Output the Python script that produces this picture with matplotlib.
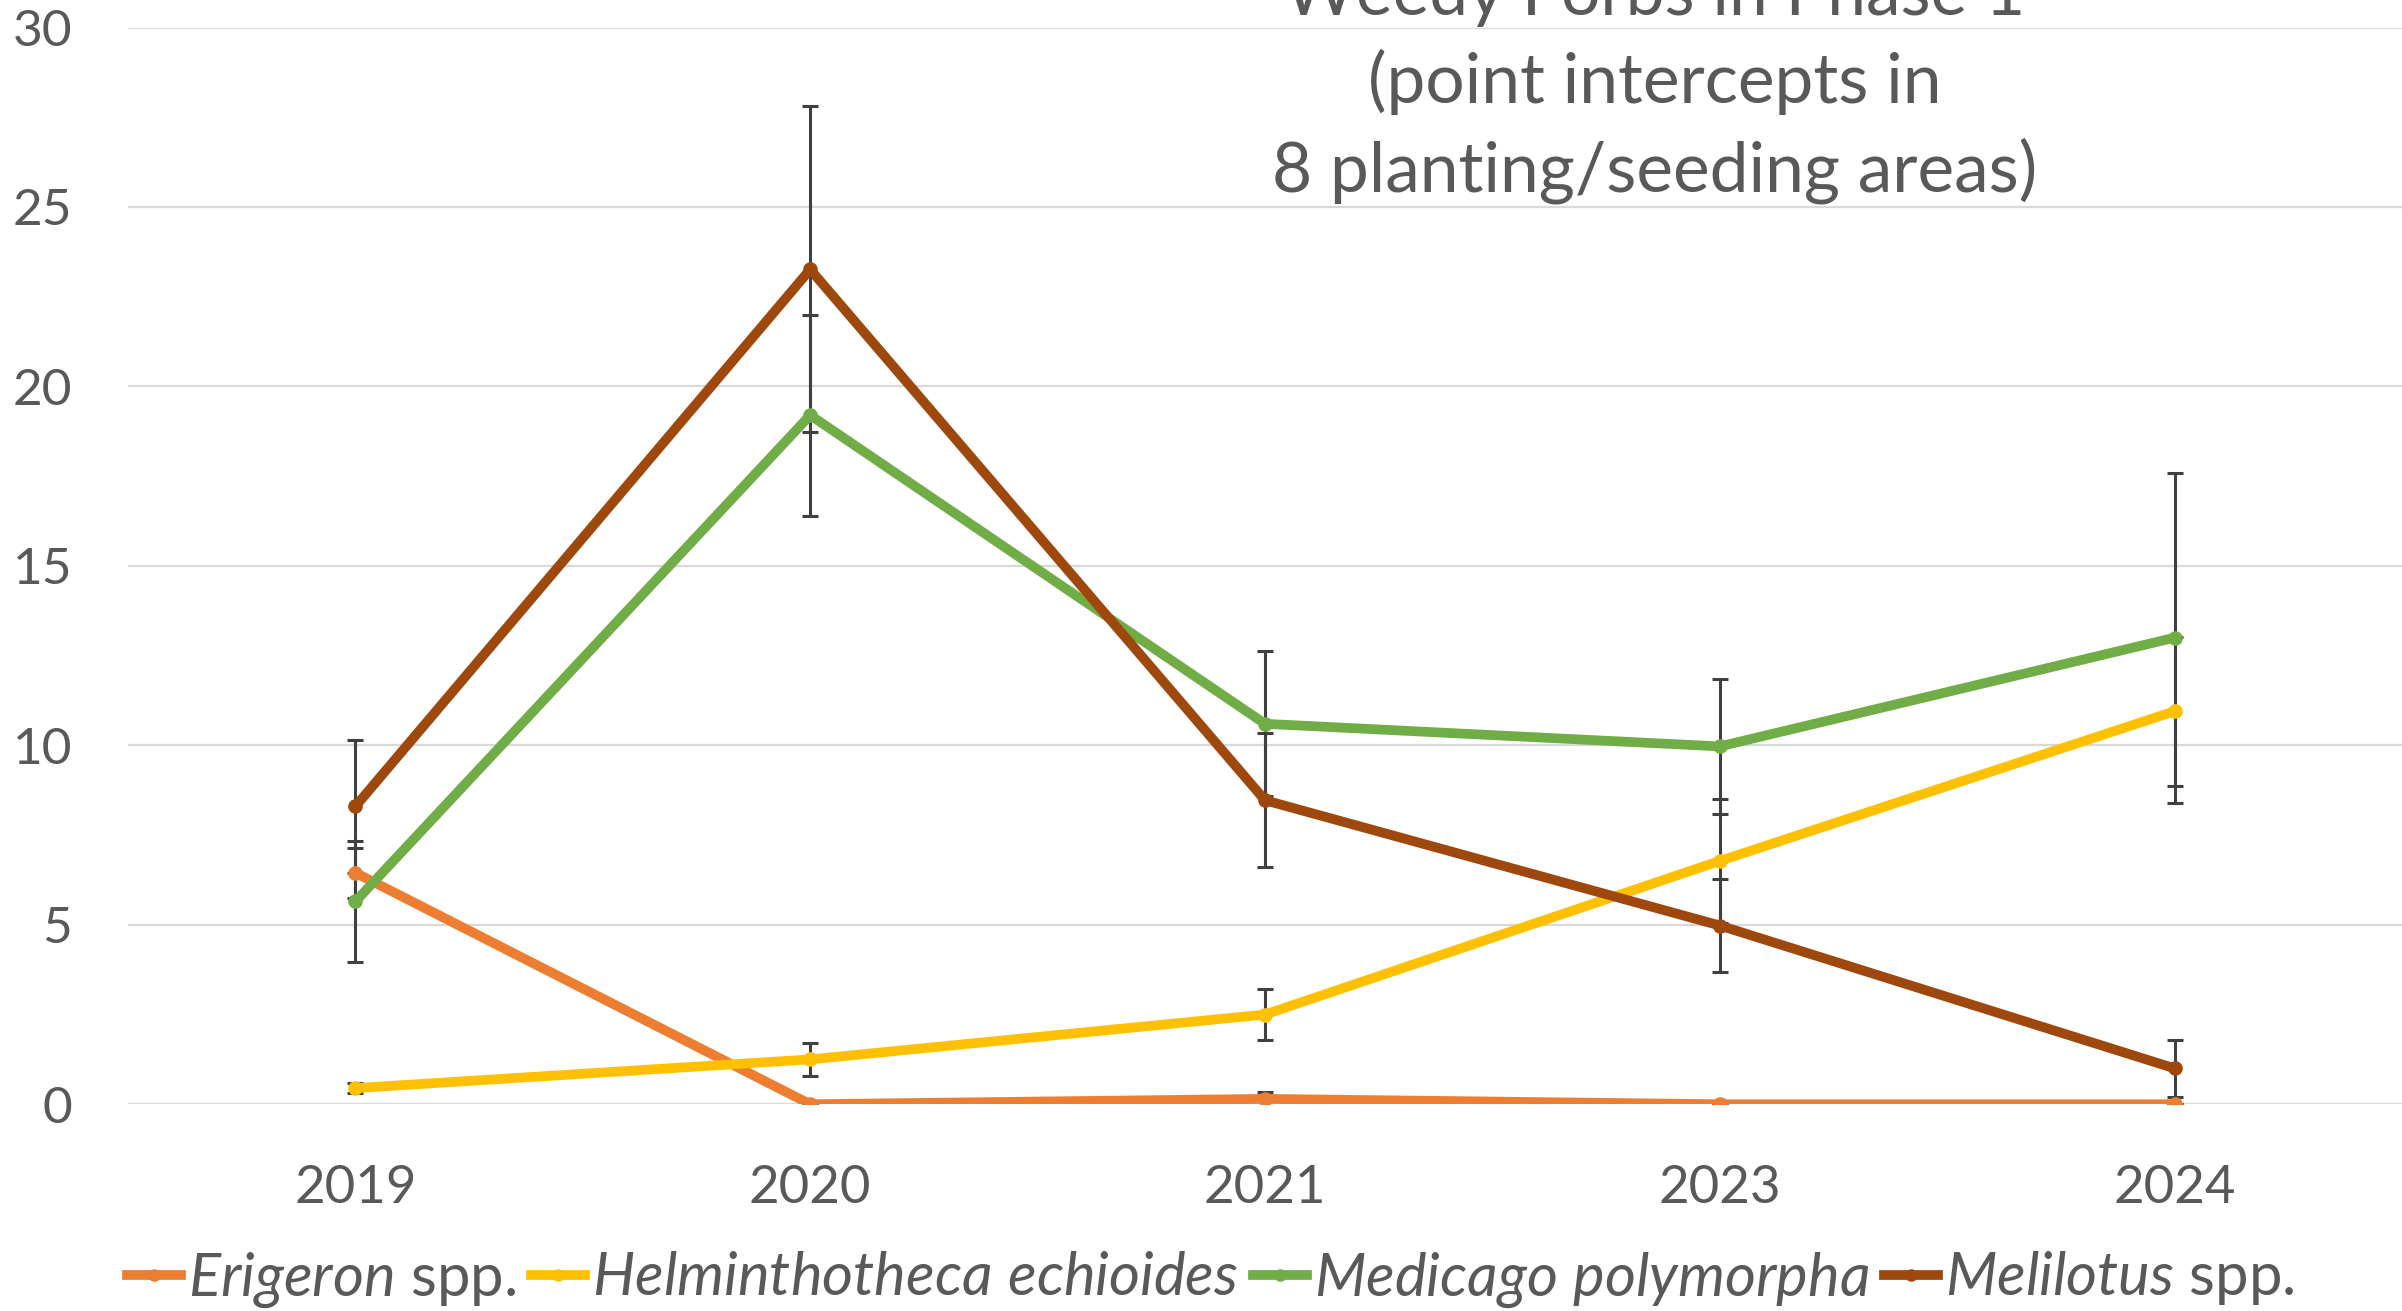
import matplotlib
matplotlib.use("Agg")
import matplotlib.pyplot as plt
from matplotlib.lines import Line2D

# Survey years (categorical axis) and mean point intercepts with standard errors
years = ["2019", "2020", "2021", "2023", "2024"]

erigeron = [6.45, 0.0, 0.15, 0.0, 0.0]
erigeron_err = [0.7, 0.0, 0.2, 0.0, 0.0]

helminthotheca = [0.45, 1.25, 2.5, 6.78, 10.95]
helminthotheca_err = [0.15, 0.47, 0.7, 1.73, 2.08]

medicago = [5.65, 19.2, 10.6, 9.97, 13.0]
medicago_err = [1.68, 2.8, 2.02, 1.88, 4.6]

melilotus = [8.3, 23.26, 8.47, 4.98, 1.0]
melilotus_err = [1.86, 4.54, 1.87, 1.29, 0.8]

labels = [r"$\it{Erigeron}$ spp.",
          r"$\it{Helminthotheca\ echioides}$",
          r"$\it{Medicago\ polymorpha}$",
          r"$\it{Melilotus}$ spp."]
colors = ["#ED7D31", "#FFC000", "#70AD47", "#9E480E"]

title_lines = ["Weedy Forbs in Phase 1",
               "(point intercepts in",
               "8 planting/seeding areas)"]

plt.rcParams["font.family"] = ["Lato", "DejaVu Sans"]
plt.rcParams["mathtext.fontset"] = "custom"
plt.rcParams["mathtext.rm"] = "Lato"
plt.rcParams["mathtext.it"] = "Lato:italic"

TEXT = "#595959"

fig = plt.figure(figsize=(24.02, 13.11), dpi=100)
ax = fig.add_axes([0.0533, 0.1577, 0.9467, 0.8213])

x = list(range(len(years)))
series = [(erigeron, erigeron_err), (helminthotheca, helminthotheca_err),
          (medicago, medicago_err), (melilotus, melilotus_err)]

for (vals, errs) in series:
    ax.errorbar(x, vals, yerr=errs, fmt="none", ecolor="#404040",
                elinewidth=2.2, capsize=6, capthick=2.2, zorder=2)

handles = []
for i, ((vals, errs), c) in enumerate(zip(series, colors)):
    ax.plot(x, vals, color=c, lw=7, marker="o", ms=9.5, mec=c, mfc=c,
            solid_joinstyle="round", zorder=3 + i)
    handles.append(Line2D([0], [0], color=c, lw=7, marker="o", ms=8))

ax.set_xlim(-0.5, len(years) - 0.5)
ax.set_ylim(0, 30)
ax.set_yticks(range(0, 31, 5))
ax.set_xticks(x)
ax.set_xticklabels(years)
ax.grid(axis="y", color="#D9D9D9", lw=1.6)
ax.set_axisbelow(True)
for s in ax.spines.values():
    s.set_visible(False)
ax.tick_params(axis="both", length=0, colors=TEXT, labelsize=38)
ax.tick_params(axis="y", pad=40, labelsize=37)
ax.tick_params(axis="x", pad=44)

# Chart title, overlaid on the plot area
baselines = [10, 67.5, 125]
for line, b in zip(title_lines, baselines):
    fig.text(0.689, 1 - b / 856, line, ha="center", va="baseline",
             fontsize=50, color=TEXT)

fig.legend(handles, labels, loc="center", bbox_to_anchor=(0.504, 0.024),
           ncol=4, frameon=False, handlelength=0.9, handletextpad=0.12,
           columnspacing=0.25, fontsize=43, labelcolor=TEXT)

fig.savefig("out.png", dpi=100)
